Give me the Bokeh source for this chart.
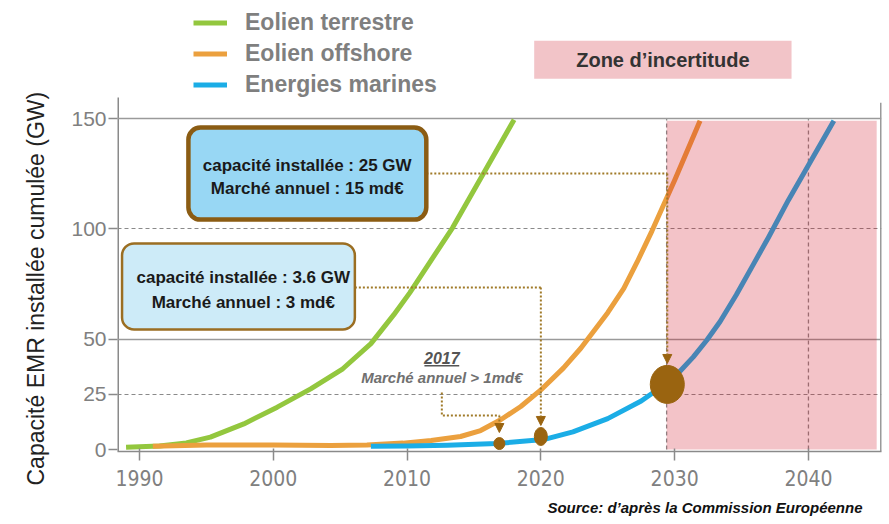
from bokeh.plotting import figure
from bokeh.models import (Range1d, FixedTicker, Grid, Legend, LegendItem, Label,
                          BoxAnnotation, Arrow, NormalHead, Title)
from bokeh.embed import file_html
from bokeh.resources import INLINE

# ---------------- data ----------------
years_terrestre = [1989.0, 1991.5, 1993.5, 1995.3, 1997.8, 2000.3, 2002.8, 2005.2,
                   2007.3, 2009.0, 2010.2, 2013.4, 2015.7, 2018.0]
gw_terrestre = [1.0, 1.6, 3.0, 5.6, 11.6, 19.2, 27.5, 36.6, 48.0, 61.0, 71.0, 100.5, 125.0, 149.5]

years_offshore = [1991.0, 1995.0, 2000.0, 2004.3, 2007.0, 2009.7, 2011.8, 2014.0, 2015.5,
                  2017.0, 2018.5, 2020.0, 2021.7, 2023.0, 2025.0, 2026.2, 2027.2, 2028.3,
                  2030.0, 2031.9]
gw_offshore = [1.5, 2.0, 2.0, 1.8, 2.0, 2.9, 4.1, 5.9, 8.6,
               13.5, 19.5, 27.0, 37.0, 46.0, 62.0, 73.0, 85.0, 99.0, 122.0, 149.0]

years_marines = [2007.3, 2010.0, 2013.0, 2016.7, 2020.2, 2022.4, 2025.0, 2027.5, 2029.4,
                 2030.4, 2031.4, 2032.4, 2033.4, 2034.6, 2035.8, 2037.0, 2038.5, 2040.2, 2041.9]
gw_marines = [1.5, 1.6, 1.9, 2.7, 4.5, 8.0, 14.0, 22.0, 30.0,
              35.5, 42.0, 49.5, 58.0, 70.0, 83.0, 96.0, 113.0, 131.0, 149.0]

milestone_years = [2016.9, 2020.0, 2029.45]
milestone_gw = [2.7, 5.9, 29.5]

zone_start = 2029.4
zone_end = 2045.1
zone_top = 149.0

x_ticks = [1990, 2000, 2010, 2020, 2030, 2040]
y_ticks = [0, 25, 50, 100, 150]
y_grid_solid = [50, 150]
y_grid_dashed = [25, 100]
v_dashed = [zone_start, 2040]

legend_labels = ["Eolien terrestre", "Eolien offshore", "Energies marines"]
box1_lines = ["capacité installée : 25 GW", "Marché annuel : 15 md€"]
box2_lines = ["capacité installée : 3.6 GW", "Marché annuel : 3 md€"]
note_year = "2017"
note_text = "Marché annuel > 1md€"
zone_text = "Zone d’incertitude"
source_text = "Source: d’après la Commission Européenne"
y_title = "Capacité EMR installée cumulée (GW)"

# ---------------- style ----------------
GREEN = "#93C73E"
ORANGE = "#EBA03E"
BLUE = "#1BADE6"
BROWN = "#9A6410"
GRID = "#9A9A9A"
AXIS = "#8A8A8A"
SANS = "'Liberation Sans', Arial, sans-serif"
COND = "'DejaVu Sans Condensed', 'Liberation Sans', sans-serif"

X0, X1 = 1988.36, 2045.46
Y0, Y1 = -0.9, 203.5
AXIS_TOP = 159.5

p = figure(width=883, height=524,
           x_range=Range1d(X0, X1), y_range=Range1d(Y0, Y1),
           output_backend="svg", toolbar_location=None,
           min_border_left=117, min_border_right=2, min_border_top=0, min_border_bottom=73)
p.outline_line_color = None
p.background_fill_color = "white"

# axes
for ax in (p.xaxis[0], p.yaxis[0]):
    ax.axis_line_color = AXIS
    ax.axis_line_width = 1.5
    ax.major_tick_line_color = AXIS
    ax.major_tick_line_width = 1.5
    ax.minor_tick_line_color = None
    ax.major_label_text_font_size = "21px"
    ax.major_label_text_color = "#808080"
p.xaxis.major_label_text_font = COND
p.yaxis.major_label_text_font = SANS
p.yaxis.axis_line_color = None
p.xaxis.ticker = FixedTicker(ticks=x_ticks)
p.yaxis.ticker = FixedTicker(ticks=y_ticks)
p.xaxis.major_tick_out = 9
p.xaxis.major_tick_in = 3
p.xaxis.major_label_standoff = 9
p.yaxis.major_tick_out = 9
p.yaxis.major_tick_in = 0
p.yaxis.major_label_standoff = 2

# y title, starting a little below the x axis level like the reference
p.add_layout(Title(text=y_title, align="left", offset=-34, standoff=40,
                   text_font=SANS, text_font_size="23px", text_font_style="normal",
                   text_color="#222222"), "left")

# left axis line and right frame border, stopping just above 150
p.segment(x0=[X0], y0=[Y0], x1=[X0], y1=[AXIS_TOP], line_color=AXIS, line_width=3, level="underlay")
p.segment(x0=[X1], y0=[Y0], x1=[X1], y1=[157.2], line_color=GRID, line_width=3, level="underlay")

# grids
p.xgrid.visible = False
p.ygrid.ticker = FixedTicker(ticks=y_grid_solid)
p.ygrid.grid_line_color = GRID
p.ygrid.grid_line_width = 1.5
p.add_layout(Grid(dimension=1, ticker=FixedTicker(ticks=y_grid_dashed),
                  grid_line_color=AXIS, grid_line_width=1.2, grid_line_dash="4 3"))
p.segment(x0=v_dashed, y0=0, x1=v_dashed, y1=150, line_color=AXIS,
          line_width=1.3, line_dash="4 3", level="underlay")

# series
r_green = p.line(years_terrestre, gw_terrestre, line_color=GREEN, line_width=5, line_join="round")
r_orange = p.line(years_offshore, gw_offshore, line_color=ORANGE, line_width=5, line_join="round")
r_blue = p.line(years_marines, gw_marines, line_color=BLUE, line_width=5, line_join="round")

# uncertainty zone (translucent overlay, darkens the lines beneath)
p.quad(left=[zone_start], right=[zone_end], bottom=[0], top=[zone_top],
       fill_color="#CF0F23", fill_alpha=0.25, line_color=None)

# milestones
p.ellipse(x=milestone_years, y=milestone_gw, width=[11, 13, 34], height=[12, 18, 38],
          width_units="screen", height_units="screen", fill_color=BROWN, line_color=BROWN)

# connectors
CONN = dict(line_color="#A07A28", line_width=2, line_dash="2 2")
box1_right, box1_y = 2011.44, 125.1
box2_right, box2_y = 2006.1, 73.4
note_x = 2012.6
p.line([box1_right, milestone_years[2]], [box1_y, box1_y], **CONN)
p.line([box2_right, milestone_years[1]], [box2_y, box2_y], **CONN)
p.line([note_x, note_x, milestone_years[0]], [25.8, 15.4, 15.4], **CONN)
for xs, ys, ye in [(milestone_years[2], box1_y, 39.0),
                   (milestone_years[1], box2_y, 10.9),
                   (milestone_years[0], 15.4, 7.7)]:
    p.add_layout(Arrow(end=NormalHead(size=9, fill_color=BROWN, line_color=BROWN),
                       x_start=xs, y_start=ys, x_end=xs, y_end=ye, **CONN))

# info boxes
p.add_layout(BoxAnnotation(left=1993.66, right=2011.44, top=145.9, bottom=104.2,
                           fill_color="#98D7F4", fill_alpha=1, line_color="#8B5C13",
                           line_alpha=1, line_width=4.5, border_radius=12))
p.add_layout(BoxAnnotation(left=1988.7, right=2006.1, top=93.4, bottom=54.4,
                           fill_color="#CDEBF8", fill_alpha=1, line_color="#9B6E22",
                           line_alpha=1, line_width=2.5, border_radius=12))
BOXTXT = dict(text_align="center", text_baseline="middle", text_font=SANS,
              text_font_size="17px", text_font_style="bold", text_color="#1A1A1A")
for t, yy in zip(box1_lines, [128.7, 118.3]):
    p.add_layout(Label(x=2002.54, y=yy, text=t, **BOXTXT))
for t, yy in zip(box2_lines, [77.9, 66.6]):
    p.add_layout(Label(x=1997.76, y=yy, text=t, **BOXTXT))

# 2017 note
p.add_layout(Label(x=note_x, y=41.7, text=note_year, text_align="center", text_baseline="middle",
                   text_font=SANS, text_font_size="16px", text_font_style="bold italic",
                   text_color="#555555"))
p.segment(x0=[note_x - 1.3], y0=[38.0], x1=[note_x + 1.3], y1=[38.0], line_color="#555555", line_width=1.5)
p.add_layout(Label(x=note_x, y=32.6, text=note_text, text_align="center", text_baseline="middle",
                   text_font=SANS, text_font_size="15px", text_font_style="bold italic",
                   text_color="#707070"))

# zone label (above the 150 line)
p.add_layout(Label(x=2029.12, y=176.7, text=zone_text, text_align="center", text_baseline="middle",
                   text_font=SANS, text_font_size="20px", text_font_style="bold",
                   text_color="#333333", background_fill_color="#F2C4C8",
                   padding=dict(left=42, right=42, top=8, bottom=8)))

# source
p.add_layout(Title(text=source_text, align="right", offset=19, standoff=17,
                   text_font=SANS, text_font_size="15px", text_font_style="bold italic",
                   text_color="#111111"), "below")

# legend (bottom-left corner given in pixels from the frame's bottom-left)
legend = Legend(items=[LegendItem(label=legend_labels[0], renderers=[r_green]),
                       LegendItem(label=legend_labels[1], renderers=[r_orange]),
                       LegendItem(label=legend_labels[2], renderers=[r_blue])],
                location=(76, 351), orientation="vertical",
                glyph_width=34, glyph_height=31, label_height=31, spacing=0,
                padding=0, margin=0, label_standoff=18,
                label_text_font=SANS, label_text_font_size="23px",
                label_text_font_style="bold", label_text_color="#7F7F7F",
                border_line_alpha=0, background_fill_alpha=0)
p.add_layout(legend)

open("out.html", "w").write(file_html(p, INLINE))
